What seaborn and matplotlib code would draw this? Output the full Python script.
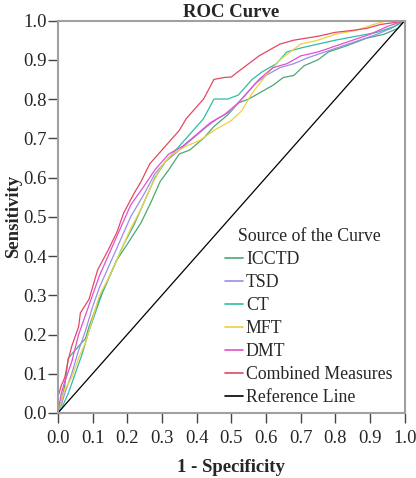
import numpy as np
import pandas as pd
import seaborn as sns
import matplotlib
matplotlib.use("Agg")
import matplotlib.pyplot as plt

# ROC points (1 - specificity, sensitivity)
icctd_fpr = [0, 0.01, 0.02, 0.03, 0.04, 0.06, 0.08, 0.09, 0.115, 0.14, 0.17, 0.20, 0.24, 0.27, 0.295, 0.32, 0.35,
             0.38, 0.42, 0.45, 0.49, 0.52, 0.55, 0.58, 0.62, 0.65, 0.68, 0.71, 0.75, 0.78, 0.83, 0.89, 0.94, 0.98, 1.0]
icctd_tpr = [0, 0.03, 0.07, 0.14, 0.15, 0.17, 0.19, 0.22, 0.28, 0.33, 0.39, 0.43, 0.485, 0.54, 0.59, 0.62, 0.66,
             0.67, 0.70, 0.73, 0.76, 0.79, 0.80, 0.815, 0.835, 0.855, 0.86, 0.885, 0.90, 0.92, 0.935, 0.955, 0.965, 0.98, 1.0]

tsd_fpr = [0, 0.01, 0.02, 0.04, 0.06, 0.08, 0.10, 0.12, 0.15, 0.18, 0.21, 0.25, 0.28, 0.31, 0.35, 0.39, 0.43, 0.46,
           0.50, 0.53, 0.57, 0.60, 0.64, 0.68, 0.72, 0.77, 0.82, 0.87, 0.92, 0.96, 1.0]
tsd_tpr = [0, 0.02, 0.05, 0.10, 0.16, 0.21, 0.27, 0.32, 0.38, 0.44, 0.50, 0.56, 0.61, 0.64, 0.67, 0.70, 0.73, 0.75,
           0.77, 0.80, 0.84, 0.86, 0.88, 0.89, 0.905, 0.92, 0.935, 0.95, 0.965, 0.98, 1.0]

ct_fpr = [0, 0.01, 0.03, 0.05, 0.07, 0.09, 0.11, 0.13, 0.16, 0.19, 0.22, 0.25, 0.28, 0.31, 0.34, 0.38, 0.42, 0.45,
          0.49, 0.52, 0.56, 0.59, 0.63, 0.66, 0.70, 0.75, 0.80, 0.86, 0.92, 0.97, 1.0]
ct_tpr = [0, 0.01, 0.05, 0.10, 0.15, 0.21, 0.26, 0.31, 0.37, 0.43, 0.48, 0.54, 0.60, 0.64, 0.67, 0.71, 0.75, 0.80,
          0.80, 0.81, 0.85, 0.87, 0.89, 0.92, 0.93, 0.94, 0.95, 0.96, 0.97, 0.985, 1.0]

mft_fpr = [0, 0.01, 0.02, 0.04, 0.06, 0.08, 0.10, 0.12, 0.15, 0.18, 0.21, 0.24, 0.27, 0.30, 0.33, 0.37, 0.41, 0.45,
           0.50, 0.53, 0.56, 0.60, 0.64, 0.67, 0.70, 0.75, 0.80, 0.86, 0.91, 0.95, 1.0]
mft_tpr = [0, 0.03, 0.06, 0.09, 0.14, 0.18, 0.24, 0.30, 0.35, 0.41, 0.47, 0.52, 0.58, 0.63, 0.66, 0.68, 0.695, 0.72,
           0.745, 0.77, 0.815, 0.86, 0.90, 0.92, 0.94, 0.95, 0.965, 0.975, 0.99, 1.0, 1.0]

dmt_fpr = [0, 0.01, 0.02, 0.04, 0.06, 0.08, 0.10, 0.12, 0.15, 0.18, 0.21, 0.25, 0.28, 0.32, 0.36, 0.40, 0.44, 0.48,
           0.52, 0.55, 0.58, 0.62, 0.66, 0.70, 0.75, 0.80, 0.85, 0.90, 0.95, 1.0]
dmt_tpr = [0, 0.05, 0.08, 0.13, 0.20, 0.25, 0.30, 0.35, 0.41, 0.47, 0.53, 0.58, 0.62, 0.66, 0.68, 0.71, 0.74, 0.76,
           0.79, 0.82, 0.85, 0.88, 0.89, 0.91, 0.92, 0.935, 0.95, 0.965, 0.985, 1.0]

comb_fpr = [0, 0, 0.01, 0.02, 0.03, 0.04, 0.06, 0.065, 0.09, 0.10, 0.115, 0.13, 0.145, 0.17, 0.19, 0.22, 0.24, 0.265,
            0.29, 0.32, 0.35, 0.37, 0.40, 0.42, 0.45, 0.48, 0.50, 0.52, 0.55, 0.58, 0.62, 0.64, 0.68, 0.75, 0.80, 0.85,
            0.89, 0.93, 0.97, 1.0]
comb_tpr = [0, 0.04, 0.07, 0.09, 0.135, 0.17, 0.22, 0.255, 0.29, 0.32, 0.365, 0.39, 0.415, 0.46, 0.51, 0.56, 0.59,
            0.635, 0.66, 0.69, 0.72, 0.75, 0.78, 0.80, 0.85, 0.855, 0.856, 0.87, 0.89, 0.91, 0.93, 0.94, 0.95, 0.96,
            0.97, 0.975, 0.98, 0.99, 0.995, 1.0]

ref_fpr = [0, 1]
ref_tpr = [0, 1]

names = ["ICCTD", "TSD", "CT", "MFT", "DMT", "Combined Measures", "Reference Line"]
colors = ["#4aa870", "#9a8ee8", "#30bca4", "#f0d040", "#e050d0", "#e44862", "#000000"]

curves = [(icctd_fpr, icctd_tpr), (tsd_fpr, tsd_tpr), (ct_fpr, ct_tpr), (mft_fpr, mft_tpr),
          (dmt_fpr, dmt_tpr), (comb_fpr, comb_tpr), (ref_fpr, ref_tpr)]

rows = []
for name, (fx, fy) in zip(names, curves):
    for a, b in zip(fx, fy):
        rows.append({"fpr": a, "tpr": b, "curve": name})
df = pd.DataFrame(rows)

sns.set_style("ticks")
plt.rcParams["font.family"] = ["Liberation Serif", "DejaVu Serif"]
fs = 13.5

fig = plt.figure(figsize=(4.16, 4.78), dpi=100)
ax = fig.add_axes([0.139, 0.136, 0.834, 0.821])

sns.lineplot(data=df, x="fpr", y="tpr", hue="curve", hue_order=names,
             palette=dict(zip(names, colors)), sort=False, estimator=None,
             linewidth=0.9, ax=ax)

ticks = np.arange(0, 1.01, 0.1)
ax.set_xlim(0, 1)
ax.set_ylim(0, 1)
ax.set_xticks(ticks)
ax.set_yticks(ticks)
ax.set_xticklabels([f"{v:.1f}" for v in ticks])
ax.set_yticklabels([f"{v:.1f}" for v in ticks])
ax.tick_params(axis="both", labelsize=fs, length=7, width=1, color="#444444")
ax.tick_params(axis="x", pad=5)
ax.tick_params(axis="y", pad=1)

for s in ax.spines.values():
    s.set_color("#a0a0a0")
    s.set_linewidth(1.5)

ax.set_title("ROC Curve", fontweight="bold", fontsize=fs, pad=2)
ax.set_xlabel("1 - Specificity", fontweight="bold", fontsize=fs, labelpad=9)
ax.set_ylabel("Sensitivity", fontweight="bold", fontsize=fs, labelpad=1)

leg = ax.legend(title="Source of the Curve", loc="lower right", bbox_to_anchor=(0.995, -0.01),
                frameon=False, fontsize=12.8, title_fontsize=12.8, handlelength=1.0,
                handletextpad=0.15, labelspacing=0.34, borderaxespad=0.2)
for h in leg.get_lines():
    h.set_linewidth(1.2)

fig.savefig("out.png", dpi=100)
